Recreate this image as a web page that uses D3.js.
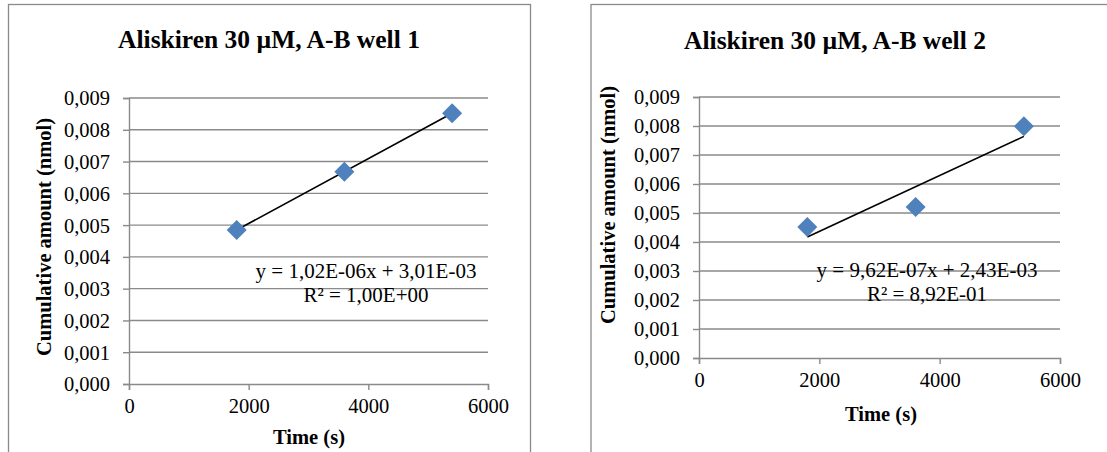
<!DOCTYPE html>
<html>
<head>
<meta charset="utf-8">
<script src="https://cdn.jsdelivr.net/npm/d3@7"></script>
<style>
  body { margin: 0; background: #fff; }
  text { font-family: "Liberation Serif", "Times New Roman", serif; fill: #000; }
</style>
</head>
<body>
<svg id="body" width="1107" height="452"></svg>
<script>
// data
let timeS = [1800, 3600, 5400];
let well1Amount = [0.00485, 0.00668, 0.00852];
let well2Amount = [0.00452, 0.00521, 0.00799];
let titles = ["Aliskiren 30 µM, A-B well 1", "Aliskiren 30 µM, A-B well 2"];
let eqLabels = [
    ["y = 1,02E-06x + 3,01E-03", "R² = 1,00E+00"],
    ["y = 9,62E-07x + 2,43E-03", "R² = 8,92E-01"]
];
let xTicks = [0, 2000, 4000, 6000];
let yTicks = [0, 0.001, 0.002, 0.003, 0.004, 0.005, 0.006, 0.007, 0.008, 0.009];
let xTitle = "Time (s)";
let yTitle = "Cumulative amount (nmol)";

let svg = d3.select("#body");
let gray = "#8a8a8a";

let panels = [
    { amount: well1Amount, title: titles[0], eq: eqLabels[0],
      frame: [8.5, 4.5, 522, 460], plot: [129, 488, 98, 384],
      titleX: 269, titleY: 48, yTitleX: 51, yTitleY: 237,
      xTitleX: 309, xTitleY: 444, eqX: 366, eqY: 278 },
    { amount: well2Amount, title: titles[1], eq: eqLabels[1],
      frame: [591, 4.5, 540, 460], plot: [699, 1060, 97, 358],
      titleX: 835, titleY: 49, yTitleX: 615, yTitleY: 205,
      xTitleX: 881, xTitleY: 421, eqX: 927, eqY: 277 }
];

panels.forEach(p => drawPanel(p));

function fit(xs, ys) {
    let mx = d3.mean(xs), my = d3.mean(ys);
    let sxy = d3.sum(xs, (x, i) => (x - mx) * (ys[i] - my));
    let sxx = d3.sum(xs, x => (x - mx) * (x - mx));
    let slope = sxy / sxx;
    return { slope: slope, intercept: my - slope * mx };
}

function drawPanel(p) {

    let g = svg.append("g");

    g.append("rect")
        .attr("x", p.frame[0]).attr("y", p.frame[1])
        .attr("width", p.frame[2]).attr("height", p.frame[3])
        .attr("fill", "#fff")
        .attr("stroke", gray)
        .attr("stroke-width", 1.3)

    let xScale = d3.scaleLinear()
        .domain([0, 6000])
        .range([p.plot[0], p.plot[1]])

    let yScale = d3.scaleLinear()
        .domain([0, 0.009])
        .range([p.plot[3], p.plot[2]])

    // gridlines
    g.selectAll(".grid")
        .data(yTicks.filter(d => d > 0))
        .enter()
        .append("line")
        .attr("x1", p.plot[0]).attr("x2", p.plot[1])
        .attr("y1", d => yScale(d)).attr("y2", d => yScale(d))
        .attr("stroke", gray)
        .attr("stroke-width", 1.4)

    let xAxis = d3.axisBottom(xScale)
        .tickValues(xTicks)
        .tickFormat(d3.format("d"))
        .tickSize(6)
        .tickPadding(8)

    let yAxis = d3.axisLeft(yScale)
        .tickValues(yTicks)
        .tickFormat(d => d3.format(".3f")(d).replace(".", ","))
        .tickSize(6)
        .tickPadding(13)

    let xg = g.append("g")
        .attr("transform", `translate(0, ${p.plot[3]})`)
        .call(xAxis)
    let yg = g.append("g")
        .attr("transform", `translate(${p.plot[0]}, 0)`)
        .call(yAxis)

    ;[xg, yg].forEach(a => {
        a.select(".domain").attr("stroke", gray).attr("stroke-width", 1.4)
        a.selectAll(".tick line").attr("stroke", gray).attr("stroke-width", 1.4)
        a.selectAll("text")
            .attr("fill", "#000")
            .style("font-family", '"Liberation Serif", serif')
            .style("font-size", "20.5px")
    })
    xg.selectAll("text").attr("dy", "0.71em")
    yg.selectAll("text").attr("dy", "0.34em")

    // trendline from a least squares fit of the points
    let f = fit(timeS, p.amount);
    let xr = d3.extent(timeS);
    g.append("line")
        .attr("x1", xScale(xr[0])).attr("y1", yScale(f.slope * xr[0] + f.intercept))
        .attr("x2", xScale(xr[1])).attr("y2", yScale(f.slope * xr[1] + f.intercept))
        .attr("stroke", "#000")
        .attr("stroke-width", 1.6)

    let diamond = d3.symbol().type(d3.symbolSquare).size(200);
    g.selectAll(".pt")
        .data(timeS.map((t, i) => ({ t: t, v: p.amount[i] })))
        .enter()
        .append("path")
        .attr("d", diamond)
        .attr("transform", d => `translate(${xScale(d.t)}, ${yScale(d.v)}) rotate(45)`)
        .attr("fill", "#4f81bd")

    // trendline label
    g.selectAll(".eq")
        .data(p.eq)
        .enter()
        .append("text")
        .attr("x", p.eqX)
        .attr("y", (d, i) => p.eqY + i * 24)
        .attr("text-anchor", "middle")
        .style("font-size", "21px")
        .text(d => d)

    g.append("text")
        .attr("x", p.titleX).attr("y", p.titleY)
        .attr("text-anchor", "middle")
        .style("font-size", "25.5px")
        .style("font-weight", "bold")
        .text(p.title)

    g.append("text")
        .attr("x", p.xTitleX).attr("y", p.xTitleY)
        .attr("text-anchor", "middle")
        .style("font-size", "20.5px")
        .style("font-weight", "bold")
        .text(xTitle)

    g.append("text")
        .attr("transform", `translate(${p.yTitleX}, ${p.yTitleY}) rotate(-90)`)
        .attr("text-anchor", "middle")
        .style("font-size", "20.5px")
        .style("font-weight", "bold")
        .text(yTitle)
}
</script>
</body>
</html>
